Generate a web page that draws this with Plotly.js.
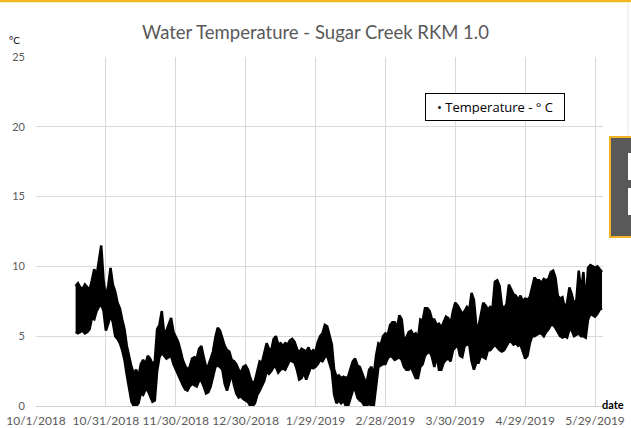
<!DOCTYPE html>
<html>
<head>
<meta charset="utf-8">
<script src="https://cdn.plot.ly/plotly-3.0.1.min.js"></script>
<style>
html,body{margin:0;padding:0;background:#fff;}
#chart{width:631px;height:428px;}
</style>
</head>
<body>
<div id="chart"></div>
<script>
// Daily sample dates (10/18/2018 - 6/1/2019)
var dates = [
'2018-10-18','2018-10-19','2018-10-20','2018-10-21','2018-10-22','2018-10-23','2018-10-24','2018-10-25','2018-10-26','2018-10-27','2018-10-28','2018-10-29','2018-10-30','2018-10-31',
'2018-11-01','2018-11-02','2018-11-03','2018-11-04','2018-11-05','2018-11-06','2018-11-07','2018-11-08','2018-11-09','2018-11-10','2018-11-11','2018-11-12','2018-11-13','2018-11-14','2018-11-15','2018-11-16','2018-11-17','2018-11-18','2018-11-19','2018-11-20','2018-11-21','2018-11-22','2018-11-23','2018-11-24','2018-11-25','2018-11-26','2018-11-27','2018-11-28','2018-11-29','2018-11-30',
'2018-12-01','2018-12-02','2018-12-03','2018-12-04','2018-12-05','2018-12-06','2018-12-07','2018-12-08','2018-12-09','2018-12-10','2018-12-11','2018-12-12','2018-12-13','2018-12-14','2018-12-15','2018-12-16','2018-12-17','2018-12-18','2018-12-19','2018-12-20','2018-12-21','2018-12-22','2018-12-23','2018-12-24','2018-12-25','2018-12-26','2018-12-27','2018-12-28','2018-12-29','2018-12-30','2018-12-31',
'2019-01-01','2019-01-02','2019-01-03','2019-01-04','2019-01-05','2019-01-06','2019-01-07','2019-01-08','2019-01-09','2019-01-10','2019-01-11','2019-01-12','2019-01-13','2019-01-14','2019-01-15','2019-01-16','2019-01-17','2019-01-18','2019-01-19','2019-01-20','2019-01-21','2019-01-22','2019-01-23','2019-01-24','2019-01-25','2019-01-26','2019-01-27','2019-01-28','2019-01-29','2019-01-30','2019-01-31',
'2019-02-01','2019-02-02','2019-02-03','2019-02-04','2019-02-05','2019-02-06','2019-02-07','2019-02-08','2019-02-09','2019-02-10','2019-02-11','2019-02-12','2019-02-13','2019-02-14','2019-02-15','2019-02-16','2019-02-17','2019-02-18','2019-02-19','2019-02-20','2019-02-21','2019-02-22','2019-02-23','2019-02-24','2019-02-25','2019-02-26','2019-02-27','2019-02-28',
'2019-03-01','2019-03-02','2019-03-03','2019-03-04','2019-03-05','2019-03-06','2019-03-07','2019-03-08','2019-03-09','2019-03-10','2019-03-11','2019-03-12','2019-03-13','2019-03-14','2019-03-15','2019-03-16','2019-03-17','2019-03-18','2019-03-19','2019-03-20','2019-03-21','2019-03-22','2019-03-23','2019-03-24','2019-03-25','2019-03-26','2019-03-27','2019-03-28','2019-03-29','2019-03-30','2019-03-31',
'2019-04-01','2019-04-02','2019-04-03','2019-04-04','2019-04-05','2019-04-06','2019-04-07','2019-04-08','2019-04-09','2019-04-10','2019-04-11','2019-04-12','2019-04-13','2019-04-14','2019-04-15','2019-04-16','2019-04-17','2019-04-18','2019-04-19','2019-04-20','2019-04-21','2019-04-22','2019-04-23','2019-04-24','2019-04-25','2019-04-26','2019-04-27','2019-04-28','2019-04-29','2019-04-30',
'2019-05-01','2019-05-02','2019-05-03','2019-05-04','2019-05-05','2019-05-06','2019-05-07','2019-05-08','2019-05-09','2019-05-10','2019-05-11','2019-05-12','2019-05-13','2019-05-14','2019-05-15','2019-05-16','2019-05-17','2019-05-18','2019-05-19','2019-05-20','2019-05-21','2019-05-22','2019-05-23','2019-05-24','2019-05-25','2019-05-26','2019-05-27','2019-05-28','2019-05-29','2019-05-30','2019-05-31',
'2019-06-01'
];
// Daily minimum temperature (°C)
var tempMin = [
5.3,5.2,5.3,5.4,5.2,5.3,5.5,6.3,6.2,6.8,7.1,7.3,6.8,5.4,
5.9,6.5,6.0,5.0,4.8,4.5,4.0,3.3,2.2,1.1,0.3,0.0,0.0,0.2,0.9,0.8,1.2,1.1,0.7,0.3,0.4,2.5,3.5,3.8,3.6,3.4,3.5,3.6,3.0,2.6,
2.3,1.8,1.5,1.2,1.1,1.4,1.6,1.5,1.4,1.8,1.8,1.4,0.9,1.0,1.4,2.1,2.8,2.9,2.8,2.6,1.6,1.1,1.8,2.3,1.5,0.9,0.6,0.7,0.5,0.4,0.3,
0.0,0.0,0.2,0.8,1.1,1.4,1.8,2.5,2.3,2.5,2.8,2.8,2.4,2.6,2.7,2.6,3.0,3.3,3.2,3.1,2.6,1.9,2.0,2.4,1.9,2.3,2.8,2.7,2.8,3.0,3.3,
3.2,3.5,3.6,3.0,2.5,0.8,0.2,0.4,0.2,0.4,0.0,0.0,0.6,1.1,1.2,0.6,0.4,0.3,0.0,0.0,0.2,0.0,0.0,1.6,2.8,2.9,3.0,3.0,
3.4,3.6,3.5,3.3,3.4,3.5,3.3,2.8,2.6,2.6,2.8,2.4,2.0,2.0,2.8,3.0,3.6,3.8,3.9,3.5,2.8,3.6,2.6,2.6,3.1,3.3,3.4,3.2,4.0,4.2,4.4,
3.6,3.5,4.3,4.4,4.4,3.2,2.6,3.1,3.1,3.6,3.5,3.4,4.0,4.0,4.2,4.4,4.2,4.0,3.9,4.0,4.3,4.6,4.6,4.4,4.5,4.3,4.4,3.9,3.4,3.6,
4.5,5.0,5.0,5.1,5.2,5.2,5.0,5.3,5.5,5.8,5.8,5.6,5.3,5.0,4.9,5.0,4.9,5.5,5.4,5.0,5.1,5.2,5.0,5.0,4.9,6.2,6.6,6.5,6.4,6.6,6.9,
7.0
];
// Daily maximum temperature (°C)
var tempMax = [
8.6,8.8,8.5,8.4,8.7,8.5,8.3,9.0,9.8,9.3,10.4,11.5,9.0,7.8,
8.6,9.9,8.7,8.2,7.4,7.0,6.2,5.5,4.3,3.5,2.8,2.3,2.6,2.1,3.0,3.3,3.0,3.6,3.4,3.0,3.2,5.5,5.8,6.8,5.2,5.4,5.9,6.3,5.3,4.9,
4.6,4.0,3.3,2.9,2.6,2.8,3.4,3.5,3.4,4.1,4.3,3.5,2.8,2.9,3.4,3.9,4.9,5.6,5.4,4.8,4.3,4.0,3.9,3.3,3.2,3.0,2.6,2.4,2.8,2.9,2.6,
2.0,1.6,1.8,2.6,3.2,3.1,3.8,4.5,4.1,4.0,4.8,5.0,4.4,4.5,4.3,4.5,4.4,4.7,4.8,4.6,4.1,3.8,4.1,4.0,3.9,4.2,3.8,4.0,3.9,4.6,5.0,
5.2,5.8,5.7,5.0,4.4,2.6,2.1,2.2,2.0,2.1,2.0,2.1,2.6,3.2,3.4,2.9,2.8,2.4,1.9,1.7,2.6,2.8,2.2,3.6,4.5,4.4,5.0,5.2,
5.1,5.8,6.0,6.0,5.6,6.5,6.2,4.7,4.9,5.3,5.4,5.1,5.2,4.8,6.2,6.1,7.0,7.0,6.8,6.2,6.2,5.8,5.9,5.6,6.0,6.4,6.3,5.9,6.8,7.4,7.2,
6.9,6.6,6.8,7.1,6.9,8.1,7.6,5.8,5.7,6.6,7.4,7.2,6.9,7.1,7.0,8.9,9.0,8.6,7.2,7.0,7.3,8.7,8.4,8.0,7.9,7.6,7.9,7.5,7.7,7.6,
7.8,8.6,9.2,9.0,9.0,8.8,9.1,9.0,9.1,9.6,9.7,9.2,7.9,7.7,7.8,7.0,7.4,8.5,8.0,7.3,7.6,9.7,8.2,9.6,7.3,9.9,10.1,10.0,9.9,10.0,9.8,
9.6
];
var tickDates = ['2018-10-01','2018-10-31','2018-11-30','2018-12-30','2019-01-29','2019-02-28','2019-03-30','2019-04-29','2019-05-29'];
var tickLabels = ['10/1/2018','10/31/2018','11/30/2018','12/30/2018','1/29/2019','2/28/2019','3/30/2019','4/29/2019','5/29/2019'];
var yTicks = [0,5,10,15,20,25];

var FONT = 'Lato, "Open Sans", "Liberation Sans", sans-serif';
var traces = [
  {x: dates, y: tempMax, type: 'scatter', mode: 'lines', name: 'Temperature - ° C',
   line: {color: '#000', width: 2.5}, showlegend: false, hoverinfo: 'skip'},
  {x: dates, y: tempMin, type: 'scatter', mode: 'lines', name: 'Temperature - ° C',
   line: {color: '#000', width: 2.5}, fill: 'tonexty', fillcolor: '#000', showlegend: false}
];

function px(x){ return (x - 36) / 567; }
function py(y){ return (406 - y) / 349; }

var layout = {
  width: 631, height: 428,
  margin: {l: 36, r: 28, t: 57, b: 22},
  paper_bgcolor: '#fff', plot_bgcolor: '#fff',
  showlegend: false,
  font: {family: FONT, color: '#595959'},
  title: {text: 'Water Temperature - Sugar Creek RKM 1.0', font: {family: FONT, size: 18.5, color: '#595959'},
          x: 0.5, xanchor: 'center', y: 1 - 33/428, yanchor: 'middle'},
  xaxis: {type: 'date', range: ['2018-10-01', '2019-06-01 10:00'],
          tickmode: 'array', tickvals: tickDates, ticktext: tickLabels,
          tickfont: {size: 12, color: '#595959'}, showgrid: true, gridcolor: '#D9D9D9', gridwidth: 1,
          showline: true, linecolor: '#D0D0D0', linewidth: 1, ticks: '', zeroline: false, fixedrange: true,
          ticklabelstandoff: 4},
  yaxis: {range: [0, 25], tickmode: 'array', tickvals: yTicks, ticks: '',
          tickfont: {size: 11, color: '#595959'}, showgrid: true, gridcolor: '#D9D9D9', gridwidth: 1,
          zeroline: false, showline: false, ticklabelstandoff: 10, fixedrange: true},
  annotations: [
    {text: '°C', xref: 'paper', yref: 'paper', x: px(14), y: py(40), showarrow: false,
     font: {family: FONT, size: 10, color: '#000'}, xanchor: 'center', yanchor: 'middle'},
    {text: '<b>date</b>', xref: 'paper', yref: 'paper', x: px(613), y: py(404), showarrow: false,
     font: {family: FONT, size: 11, color: '#000'}, xanchor: 'center', yanchor: 'middle'},
    {text: '• Temperature - ° C', xref: 'paper', yref: 'paper', x: px(494.5), y: py(106.5), showarrow: false,
     font: {family: '"Open Sans", Lato, sans-serif', size: 13, color: '#000'}, xanchor: 'center', yanchor: 'middle',
     bordercolor: '#000', borderwidth: 1, borderpad: 6, bgcolor: '#fff', width: 126, height: 14}
  ],
  shapes: [
    {type: 'line', xref: 'paper', yref: 'paper', x0: px(0), x1: px(631), y0: py(1), y1: py(1),
     line: {color: '#F2B61C', width: 2.5}},
    {type: 'line', xref: 'paper', yref: 'paper', x0: px(628), x1: px(628), y0: py(3), y1: py(135),
     line: {color: '#E6E6E6', width: 1}},
    {type: 'rect', xref: 'paper', yref: 'paper', x0: px(610), x1: px(640), y0: py(237), y1: py(137),
     fillcolor: '#595959', line: {color: '#F0B323', width: 2}},
    {type: 'rect', xref: 'paper', yref: 'paper', x0: px(628), x1: px(640), y0: py(180), y1: py(153),
     fillcolor: '#fff', line: {width: 0}},
    {type: 'rect', xref: 'paper', yref: 'paper', x0: px(628), x1: px(640), y0: py(215), y1: py(188),
     fillcolor: '#fff', line: {width: 0}}
  ]
};

Plotly.newPlot('chart', traces, layout, {staticPlot: true, displayModeBar: false});
</script>
</body>
</html>
